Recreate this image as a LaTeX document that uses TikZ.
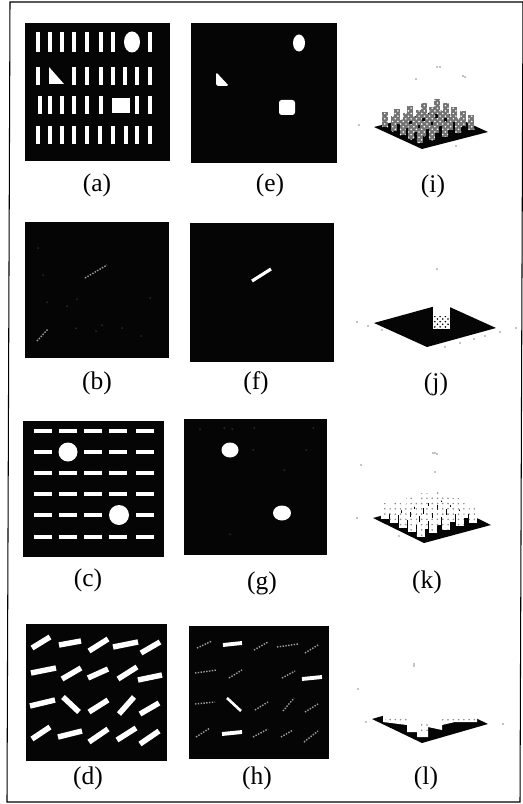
\documentclass[tikz,border=0pt]{standalone}
\usepackage{xcolor}
\usepackage{fontspec}
\setmainfont{Liberation Serif}
\usetikzlibrary{patterns}
\definecolor{c1}{HTML}{050505}
\definecolor{c2}{HTML}{A0A0A0}
\tikzset{
  panel/.style={fill=c1, draw=none},
  bar/.style={white, line width=2.6pt},
  wideBar/.style={white, line width=3.1pt},
  thinbar/.style={white, line width=1.8pt},
  blob/.style={fill=white},
  streak/.style={c2, line width=0.8pt, dash pattern=on 0.8pt off 0.8pt},
  lab/.style={font=\fontsize{14.5}{16}\selectfont, inner sep=0pt},
  denseTower/.style={preaction={fill=black!55}, pattern=crosshatch dots, pattern color=white},
  midTower/.style={preaction={fill=white}, pattern=crosshatch dots, pattern color=black},
  paleTower/.style={preaction={fill=white}, pattern=dots, pattern color=black!45},
  speck/.style={fill=black},
}
\begin{document}
\begin{tikzpicture}[x=0.02cm, y=-0.02cm]
  \useasboundingbox (0,0) rectangle (523,804);
  \draw[line width=0.6pt] (10,2) -- (523,2) -- (520,802) -- (7,802) -- cycle;
  % Panel a
  \fill[panel] (25,23) rectangle (170,161);
  \foreach \x in {38,50,62,74,87,101,113,150}{
    \draw[bar] (\x,32) -- (\x,52);
  }
  \fill[blob] (132,42) ellipse [x radius=8, y radius=10.5];
  \foreach \x in {38,74,87,101,113,125,137,150}{
    \draw[bar] (\x,67) -- (\x,85);
  }
  \fill[blob] (49,67) -- (64,84) -- (49,84) -- cycle;
  \foreach \x in {40,50,62,74,87,101,137,150}{
    \draw[bar] (\x,96) -- (\x,114);
  }
  \fill[blob] (112,98) rectangle (130,113);
  \foreach \x in {38,50,62,74,87,100,113,126,137,150}{
    \draw[bar] (\x,126) -- (\x,144);
  }
  \node[lab] (labA) at (97,185) {(a)};
  % Panel e
  \fill[panel] (191,23) rectangle (337,163);
  \fill[blob] (299,43) ellipse [x radius=6, y radius=8.5];
  \fill[blob, rounded corners=1pt] (216,72) -- (229,86) -- (216,86) -- cycle;
  \fill[blob, rounded corners=1.5pt] (279,100) rectangle (295,115);
  \node[lab] (labE) at (270,185) {(e)};
  % Panel b
  \fill[panel] (25,222) rectangle (169,358);
  \draw[streak] (85,278) -- (107,265);
  \draw[streak] (37,341) -- (48,329);
  \foreach \x/\y in {38/248,43/275,47/302,67/306,77/299,150/298,76/328,96/331,102/325,122/328,141/336}{
    \fill[c2] (\x,\y) circle (0.5);
  }
  \node[lab] (labB) at (97,383) {(b)};
  % Panel f
  \fill[panel] (190,223) rectangle (334,362);
  \draw[white, line width=1.8pt] (252,281) -- (271,269);
  \node[lab] (labF) at (256,383) {(f)};
  % Panel c
  \fill[panel] (23,421) rectangle (164,557);
  \foreach \y in {431,452,473,494,515,537}{
    \foreach \x in {43,68,93,118,145}{
      \draw[thinbar] (\x-9,\y) -- (\x+9,\y);
    }
  }
  \fill[c1] (56,440) rectangle (80,464);
  \fill[c1] (107,503) rectangle (131,527);
  \fill[blob] (68,452) circle (9.5);
  \fill[blob] (119,515) circle (10);
  \node[lab] (labC) at (88,580) {(c)};
  % Panel g
  \fill[panel] (184,419) rectangle (327,555);
  \fill[blob] (230,450) ellipse [x radius=8.5, y radius=7.5];
  \fill[blob] (282,513) ellipse [x radius=9, y radius=7.5];
  \foreach \x/\y in {200/429,224/428,232/429,254/428,313/428,253/450,306/450,284/470,230/534}{
    \fill[c2] (\x,\y) circle (0.5);
  }
  \node[lab] (labG) at (262,583) {(g)};
  % Panel d
  \fill[panel] (26,624) rectangle (167,761);
  \foreach \xa/\ya/\xb/\yb in {32/648/50/637,59/645/81/641,89/651/108/639,113/647/138/642,141/653/160/642,
    31/673/56/668,62/679/81/668,88/678/108/669,118/679/137/667,138/680/162/675,
    30/706/55/700,63/697/79/712,89/712/108/700,119/714/134/697,140/714/159/703,
    32/739/50/727,58/737/82/731,89/742/108/729,117/740/136/728,140/744/159/731}{
    \draw[wideBar] (\xa,\ya) -- (\xb,\yb);
  }
  \node[lab] (labD) at (88,778) {(d)};
  % Panel h
  \fill[panel] (189,626) rectangle (329,759);
  \foreach \xa/\ya/\xb/\yb in {197/648/212/641,254/650/268/642,277/647/298/644,305/653/318/645,
    195/673/217/670,229/678/242/670,282/678/295/671,
    195/704/215/702,255/710/268/702,283/711/294/698,305/712/318/704,
    196/737/210/728,253/737/268/729,281/737/293/730,304/742/318/731}{
    \draw[streak] (\xa,\ya) -- (\xb,\yb);
  }
  \foreach \xa/\ya/\xb/\yb in {223/645/242/643,302/679/322/677,222/734/242/732}{
    \draw[white, line width=2.2pt] (\xa,\ya) -- (\xb,\yb);
  }
  \draw[white, line width=1.5pt] (227,698) -- (241,711);
  \node[lab] (labH) at (257,778) {(h)};
  % Panel i
  \fill[c1] (374,127) -- (422,149) -- (488,132) -- (440,110) -- cycle;
  \foreach \u in {0.1,0.28,0.46,0.64,0.82}{
    \foreach \v in {0.12,0.32,0.52,0.72,0.9}{
      \fill[denseTower] ({440+48*\u-66*\v-3},{110+22*\u+17*\v}) rectangle ++(6,-15);
    }
  }
  \foreach \x/\y in {437/67,440/67,416/79,463/76,465/77,456/146,359/125}{
    \fill[speck] (\x,\y) circle (0.7);
  }
  \node[lab] (labI) at (433,186) {(i)};
  % Panel j
  \fill[c1] (374,323) -- (427,347) -- (496,328) -- (443,304) -- cycle;
  \fill[white] (433,329) rectangle (450,302);
  \fill[midTower] (433,329) rectangle (450,316);
  \foreach \x/\y in {437/269,357/322,368/326,382/330,445/347,460/343,474/339,485/336,500/332,516/328}{
    \fill[speck] (\x,\y) circle (0.7);
  }
  \node[lab] (labJ) at (436,384) {(j)};
  % Panel k
  \fill[c1] (373,518) -- (424,543) -- (491,525) -- (440,500) -- cycle;
  \foreach \u in {0.1,0.28,0.46,0.64,0.82}{
    \foreach \v in {0.12,0.32,0.52,0.72,0.9}{
      \fill[paleTower] ({440+50*\u-67*\v-4},{500+25*\u+18*\v}) rectangle ++(8,-15);
    }
  }
  \foreach \x/\y in {433/453,435/453,437/454,435/472,361/465,357/518,399/536}{
    \fill[speck] (\x,\y) circle (0.7);
  }
  \node[lab] (labK) at (427,582) {(k)};
  % Panel l
  \fill[c1] (372,719) -- (422,743) -- (488,724) -- (438,700) -- cycle;
  \fill[white] (383,716) -- (383,722) -- (407,725) -- (407,732) -- (417,732) -- (417,737) -- (428,737)
    -- (428,727) -- (442,730) -- (442,725) -- (455,722) -- (477,722) -- (477,716) -- (470,698) -- (400,698) -- cycle;
  \fill[paleTower] (385,716) rectangle (407,722);
  \fill[paleTower] (442,716) rectangle (475,721);
  \fill[paleTower] (417,722) rectangle (428,732);
  \foreach \x/\y in {414/664,414/666,358/689,366/722,503/724}{
    \fill[speck] (\x,\y) circle (0.7);
  }
  \node[lab] (labL) at (426,778) {(l)};
\end{tikzpicture}
\end{document}
